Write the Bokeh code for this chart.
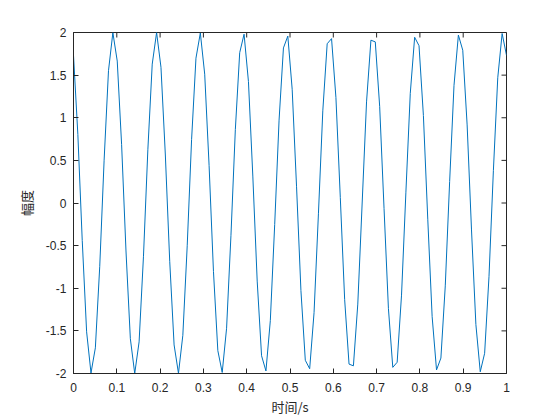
import math
from bokeh.plotting import figure
from bokeh.models import Range1d, LinearAxis, FixedTicker
from bokeh.embed import file_html
from bokeh.resources import INLINE

# sample times (100 samples over 0..1 s)
n_samples = 100
t = [k / 99 for k in range(n_samples)]
amplitude = [
    1.732, 0.802, -0.441, -1.511, -1.994, -1.699, -0.743, 0.502, 1.552, 1.998,
    1.665, 0.684, -0.563, -1.592, -2.000, -1.629, -0.624, 0.624, 1.629, 2.000,
    1.592, 0.563, -0.684, -1.665, -1.998, -1.552, -0.502, 0.743, 1.699, 1.994,
    1.511, 0.441, -0.802, -1.732, -1.988, -1.469, -0.379, 0.860, 1.763, 1.980,
    1.425, 0.316, -0.916, -1.792, -1.970, -1.380, -0.253, 0.972, 1.819, 1.958,
    1.334, 0.190, -1.027, -1.845, -1.944, -1.286, -0.127, 1.081, 1.868, 1.928,
    1.236, 0.063, -1.134, -1.890, -1.910, -1.186, 0.000, 1.186, 1.910, 1.890,
    1.134, -0.063, -1.236, -1.928, -1.868, -1.081, 0.127, 1.286, 1.944, 1.845,
    1.027, -0.190, -1.334, -1.958, -1.819, -0.972, 0.253, 1.380, 1.970, 1.792,
    0.916, -0.316, -1.425, -1.980, -1.763, -0.860, 0.379, 1.469, 1.988, 1.732,
]

x_ticks = [0, 0.1, 0.2, 0.3, 0.4, 0.5, 0.6, 0.7, 0.8, 0.9, 1]
x_tick_labels = ["0", "0.1", "0.2", "0.3", "0.4", "0.5", "0.6", "0.7", "0.8", "0.9", "1"]
y_ticks = [-2, -1.5, -1, -0.5, 0, 0.5, 1, 1.5, 2]
y_tick_labels = ["-2", "-1.5", "-1", "-0.5", "0", "0.5", "1", "1.5", "2"]

x_label = "时间/s"
y_label = "幅度"

AX = "#262626"
FONT = "Liberation Sans"
CJK = "Noto Sans CJK SC"

p = figure(width=552, height=420, output_backend="svg", toolbar_location=None,
           x_range=Range1d(0, 1), y_range=Range1d(-2, 2),
           min_border_left=73, min_border_right=46, min_border_top=32,
           min_border_bottom=47, x_axis_location=None, y_axis_location=None)
p.grid.visible = False
p.outline_line_color = AX
p.outline_line_width = 1
p.background_fill_color = "white"
p.border_fill_color = "white"

p.line(t, amplitude, line_color="#0072BD", line_width=1)

# inward ticks on the top and right edges of the box
p.ray(x=x_ticks, y=[y_ticks[-1]] * len(x_ticks), length=5, length_units="screen",
      angle=-math.pi / 2, line_color=AX, line_width=1)
p.ray(x=[x_ticks[-1]] * len(y_ticks), y=y_ticks, length=5, length_units="screen",
      angle=math.pi, line_color=AX, line_width=1)


def style(ax, ticks, labels):
    ax.ticker = FixedTicker(ticks=ticks)
    ax.major_label_overrides = {tk: lb for tk, lb in zip(ticks, labels)}
    ax.axis_line_color = AX
    ax.major_tick_line_color = AX
    ax.major_tick_in = 5
    ax.major_tick_out = 0
    ax.minor_tick_line_color = None
    ax.major_label_text_color = AX
    ax.major_label_text_font = FONT
    ax.major_label_text_font_size = "12px"
    ax.axis_label_text_color = AX
    ax.axis_label_text_font = CJK
    ax.axis_label_text_font_size = "13px"
    ax.axis_label_text_font_style = "normal"


xb = LinearAxis(axis_label=x_label)
style(xb, x_ticks, x_tick_labels)
xb.major_label_standoff = 9
xb.axis_label_standoff = 2
p.add_layout(xb, "below")

yl = LinearAxis(axis_label=y_label)
style(yl, y_ticks, y_tick_labels)
yl.major_label_standoff = 7
yl.axis_label_standoff = 7
p.add_layout(yl, "left")

open("out.html", "w").write(file_html(p, INLINE))
